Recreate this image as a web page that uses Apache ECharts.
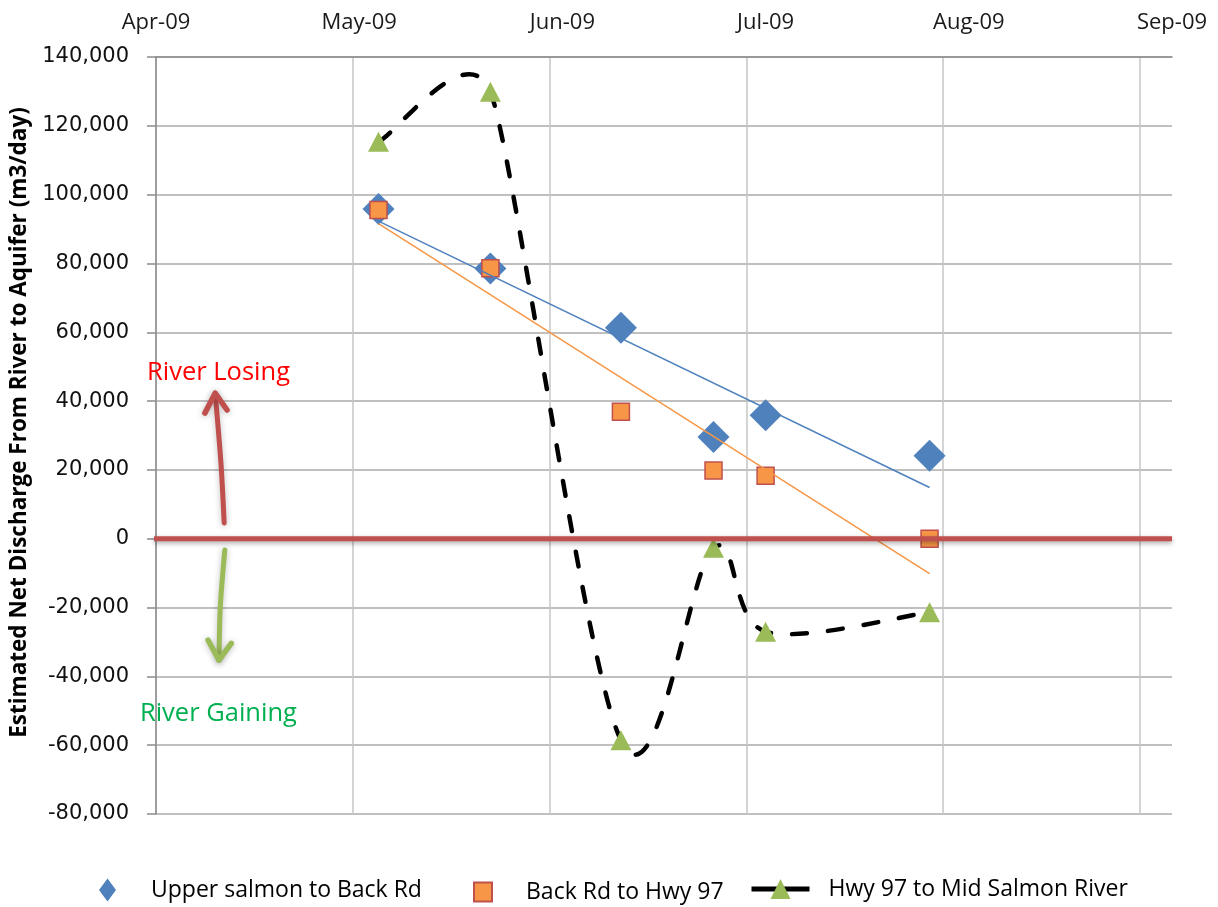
<!DOCTYPE html>
<html>
<head>
<meta charset="utf-8">
<title>Estimated Net Discharge From River to Aquifer</title>
<script src="https://cdn.jsdelivr.net/npm/echarts@6/dist/echarts.min.js"></script>
<style>
  html, body { margin: 0; padding: 0; background: #ffffff; }
  #chart { width: 1218px; height: 907px; }
</style>
</head>
<body>
<div id="chart"></div>
<script>
// Sampling days, counted from 1 April 2009
const sampleDay = [34.6, 52.0, 72.3, 86.7, 94.8, 120.3];
// Estimated net discharge from river to aquifer (m3/day) for each reach
const upperSalmonToBackRd = [95800, 78500, 61300, 29600, 35900, 24100];
const backRdToHwy97 = [95500, 78600, 36900, 19800, 18300, 0];
const hwy97ToMidSalmon = [115400, 129900, -58600, -2600, -27000, -21400];

const monthLabels = ['Apr-09', 'May-09', 'Jun-09', 'Jul-09', 'Aug-09', 'Sep-09'];
const seriesNames = ['Upper salmon to Back Rd', 'Back Rd to Hwy 97', 'Hwy 97 to Mid Salmon River'];

const X_MAX = 158;        // axis runs a few days past 1 September
const X_STEP = 153 / 5;   // vertical gridlines split 1 Apr - 1 Sep into five steps

const LABEL_FONT = '"Open Sans", "Noto Sans", sans-serif';

// least-squares straight line, evaluated at the first and last sample
function linearFit(xs, ys) {
  const n = xs.length;
  const mx = xs.reduce((a, b) => a + b, 0) / n;
  const my = ys.reduce((a, b) => a + b, 0) / n;
  let sxy = 0, sxx = 0;
  for (let i = 0; i < n; i++) {
    sxy += (xs[i] - mx) * (ys[i] - my);
    sxx += (xs[i] - mx) * (xs[i] - mx);
  }
  const slope = sxy / sxx, icpt = my - slope * mx;
  return [xs[0], xs[n - 1]].map(x => [x, icpt + slope * x]);
}

// Bezier smoothing through screen points; handle length is capped at
// half of the neighbouring segments so the curve does not loop
function smoothPath(pts) {
  const n = pts.length;
  const dist = (p, q) => Math.hypot(q[0] - p[0], q[1] - p[1]);
  const handles = pts.map((p, i) => {
    if (i === 0) return [(pts[1][0] - p[0]) / 6, (pts[1][1] - p[1]) / 6];
    if (i === n - 1) return [(p[0] - pts[n - 2][0]) / 6, (p[1] - pts[n - 2][1]) / 6];
    const a = pts[i - 1], c = pts[i + 1];
    const dac = dist(a, c);
    const len = Math.min(dac / 6, dist(a, p) / 2, dist(p, c) / 2);
    return [(c[0] - a[0]) / dac * len, (c[1] - a[1]) / dac * len];
  });
  let d = 'M' + pts[0][0] + ',' + pts[0][1];
  for (let i = 0; i < n - 1; i++) {
    const p = pts[i], q = pts[i + 1], h0 = handles[i], h1 = handles[i + 1];
    d += ' C' + (p[0] + h0[0]) + ',' + (p[1] + h0[1]) + ' ' +
         (q[0] - h1[0]) + ',' + (q[1] - h1[1]) + ' ' + q[0] + ',' + q[1];
  }
  return d;
}

const zip = (xs, ys) => xs.map((x, i) => [x, ys[i]]);

// hand-drawn arrows and captions, placed in axis units (day, m3/day)
const losingArrow = { shaft: [[10.6, 4600], [10.1, 22000], [9.2, 42300]], head: [[7.6, 36500], [9.2, 42300], [11.05, 37400]] };
const gainingArrow = { shaft: [[10.7, -3300], [10.0, -19800], [9.8, -35300]], head: [[8.1, -29500], [9.8, -35300], [11.7, -30400]] };

const chart = echarts.init(document.getElementById('chart'), null, { renderer: 'canvas' });

chart.setOption({
  animation: false,
  backgroundColor: '#ffffff',
  grid: { left: 156, right: 46, top: 57, bottom: 93, containLabel: false },
  xAxis: [
    {
      type: 'value', min: 0, max: X_MAX, interval: X_STEP, position: 'bottom',
      axisLine: { show: false }, axisTick: { show: false }, axisLabel: { show: false },
      splitLine: { show: true, showMaxLine: false, lineStyle: { color: '#c6c6c6', width: 1.5 } }
    },
    {
      type: 'category', position: 'top', boundaryGap: false, data: monthLabels,
      axisLine: { show: true, lineStyle: { color: '#8c8c8c', width: 1.5 } },
      axisTick: { show: false },
      axisLabel: { margin: 23, color: '#1a1a1a', fontFamily: LABEL_FONT, fontSize: 22, showMinLabel: true, showMaxLabel: true, interval: 0 },
      splitLine: { show: false }
    }
  ],
  yAxis: {
    type: 'value', min: -80000, max: 140000, interval: 20000,
    name: 'Estimated Net Discharge From River to Aquifer (m3/day)',
    nameLocation: 'middle', nameRotate: 90, nameGap: 124,
    nameTextStyle: { fontFamily: LABEL_FONT, fontWeight: 'bold', fontSize: 22.5, color: '#000', padding: [0, 0, 0, 26] },
    axisLine: { show: true, lineStyle: { color: '#8c8c8c', width: 1.5 } },
    axisTick: { show: true, inside: false, length: 9, lineStyle: { color: '#8c8c8c', width: 1.5 } },
    axisLabel: {
      margin: 27, color: '#111', fontFamily: '"DejaVu Sans", sans-serif', fontSize: 21,
      formatter: v => v.toLocaleString('en-US')
    },
    splitLine: { show: true, lineStyle: { color: '#ababab', width: 1.5 } }
  },
  legend: [
    {
      data: [seriesNames[0]], left: 99, top: 878.5, padding: 0,
      icon: 'diamond', itemWidth: 17, itemHeight: 23, symbolKeepAspect: false,
      selectedMode: false, itemStyle: { opacity: 1 },
      textStyle: { fontFamily: LABEL_FONT, fontSize: 23, color: '#000', padding: [0, 0, 0, 30] }
    },
    {
      data: [seriesNames[1]], left: 473, top: 880.5, padding: 0,
      icon: 'rect', itemWidth: 18, itemHeight: 19, symbolKeepAspect: false,
      selectedMode: false, itemStyle: { opacity: 1 },
      textStyle: { fontFamily: LABEL_FONT, fontSize: 23, color: '#000', padding: [0, 0, 0, 29] }
    },
    {
      data: [{ name: seriesNames[2], lineStyle: { opacity: 1, color: '#000', width: 5, type: 'solid' } }],
      left: 749, top: 877.5, padding: 0,
      itemWidth: 58, itemHeight: 25, selectedMode: false,
      textStyle: { fontFamily: LABEL_FONT, fontSize: 23, color: '#000', padding: [0, 0, 0, 14] }
    }
  ],
  series: [
    {
      name: seriesNames[0], type: 'scatter', z: 2, silent: true,
      symbol: 'diamond', symbolSize: 32,
      itemStyle: { color: '#4f81bd', opacity: 1 },
      data: zip(sampleDay, upperSalmonToBackRd)
    },
    {
      name: seriesNames[1], type: 'scatter', z: 2, silent: true,
      symbol: 'rect', symbolSize: 17,
      itemStyle: { color: '#f79646', borderColor: '#c0504d', borderWidth: 1.5, opacity: 1 },
      data: zip(sampleDay, backRdToHwy97)
    },
    {
      name: 'upperTrend', type: 'line', z: 3, silent: true, showSymbol: false,
      lineStyle: { color: '#4f81bd', width: 1.5 },
      data: linearFit(sampleDay, upperSalmonToBackRd)
    },
    {
      name: 'backRdTrend', type: 'line', z: 3, silent: true, showSymbol: false,
      lineStyle: { color: '#f79646', width: 1.5 },
      data: linearFit(sampleDay, backRdToHwy97)
    },
    {
      // smoothed dashed line through the Hwy 97 reach values
      name: 'hwy97Curve', type: 'custom', z: 3, silent: true,
      data: [[0, 0]],
      renderItem: (params, api) => {
        const pts = sampleDay.map((x, i) => api.coord([x, hwy97ToMidSalmon[i]]));
        return {
          type: 'path',
          shape: { pathData: smoothPath(pts) },
          style: { fill: 'none', stroke: '#000', lineWidth: 4.5, lineDash: [15, 21], lineCap: 'round' }
        };
      }
    },
    {
      name: seriesNames[2], type: 'line', z: 4, silent: true,
      symbol: 'triangle', symbolSize: [21, 20], showSymbol: true,
      itemStyle: { color: '#9bbb59', opacity: 1 },
      lineStyle: { opacity: 0, width: 0 },
      data: zip(sampleDay, hwy97ToMidSalmon)
    },
    {
      // zero line, losing / gaining arrows and captions
      name: 'annotations', type: 'custom', z: 6, silent: true,
      data: [[0, 0]],
      renderItem: (params, api) => {
        const c = p => api.coord(p);
        const z0 = c([0, 0]), z1 = c([X_MAX, 0]);
        const glow = { shadowBlur: 6, shadowColor: 'rgba(0,0,0,0.25)', shadowOffsetY: 1 };
        const arrow = (a, color) => [
          { type: 'polyline', shape: { points: a.shaft.map(c), smooth: 0.3 },
            style: Object.assign({ stroke: color, lineWidth: 5, fill: 'none', lineCap: 'round' }, glow) },
          { type: 'polyline', shape: { points: a.head.map(c) },
            style: Object.assign({ stroke: color, lineWidth: 5.5, fill: 'none', lineCap: 'round', lineJoin: 'round' }, glow) }
        ];
        const losingAt = c([-1.4, 48100]);
        const gainingAt = c([-2.5, -51000]);
        return {
          type: 'group',
          children: [
            { type: 'line', shape: { x1: z0[0] - 2, y1: z0[1], x2: z1[0], y2: z1[1] },
              style: { stroke: '#c0504d', lineWidth: 5, shadowBlur: 5, shadowColor: 'rgba(0,0,0,0.35)', shadowOffsetY: 2 } },
            ...arrow(losingArrow, '#c0504d'),
            ...arrow(gainingArrow, '#9bbb59'),
            { type: 'text', x: losingAt[0], y: losingAt[1],
              style: { text: 'River Losing', fill: '#ff0000', font: '25.5px ' + LABEL_FONT, align: 'left', verticalAlign: 'middle' } },
            { type: 'text', x: gainingAt[0], y: gainingAt[1],
              style: { text: 'River Gaining', fill: '#00b050', font: '25.5px ' + LABEL_FONT, align: 'left', verticalAlign: 'middle' } }
          ]
        };
      }
    }
  ]
});
</script>
</body>
</html>
